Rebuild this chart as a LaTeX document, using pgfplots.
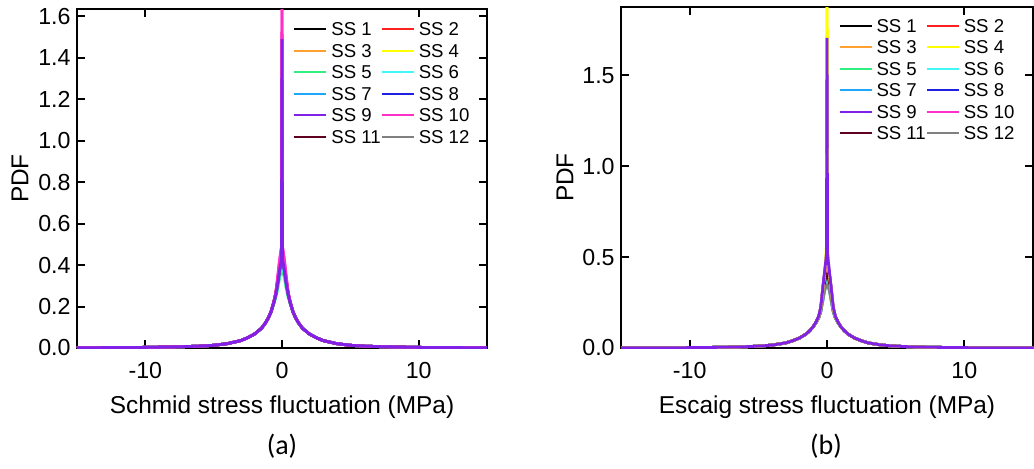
\documentclass[border=0pt]{standalone}
\usepackage{fontspec}
\setmainfont{Liberation Sans}
\newfontfamily\carlito{Carlito}
\usepackage{pgfplots}
\pgfplotsset{compat=1.18}
\usepackage{pgfplotstable}

\definecolor{c1}{HTML}{000000}
\definecolor{c2}{HTML}{FF2020}
\definecolor{c3}{HTML}{FFA030}
\definecolor{c4}{HTML}{FFFF00}
\definecolor{c5}{HTML}{30EE80}
\definecolor{c6}{HTML}{40F8F8}
\definecolor{c7}{HTML}{20A8F8}
\definecolor{c8}{HTML}{2020E0}
\definecolor{c9}{HTML}{8020E8}
\definecolor{c10}{HTML}{FF30C8}
\definecolor{c11}{HTML}{600020}
\definecolor{c12}{HTML}{808080}

% Panel (a): Schmid stress fluctuation
\pgfplotstableread{
x     s1    s2    s3    s4    s5    s6    s7    s8    s9    s10   s11   s12
-15   0.001 0.001 0.001 0.001 0.001 0.001 0.001 0.001 0.001 0.001 0.001 0.001
-10   0.003 0.003 0.003 0.003 0.003 0.003 0.003 0.003 0.003 0.003 0.003 0.003
-7.5  0.006 0.006 0.006 0.006 0.006 0.006 0.006 0.006 0.006 0.006 0.006 0.006
-6    0.009 0.009 0.009 0.009 0.009 0.009 0.009 0.009 0.009 0.009 0.009 0.009
-5    0.013 0.013 0.013 0.013 0.013 0.013 0.013 0.013 0.013 0.013 0.013 0.013
-4    0.021 0.021 0.021 0.021 0.021 0.021 0.021 0.021 0.021 0.021 0.021 0.021
-3    0.036 0.036 0.036 0.036 0.036 0.036 0.036 0.036 0.036 0.036 0.036 0.036
-2.5  0.050 0.050 0.050 0.050 0.050 0.050 0.050 0.050 0.050 0.050 0.050 0.050
-2    0.068 0.068 0.068 0.068 0.068 0.068 0.068 0.068 0.068 0.068 0.068 0.068
-1.5  0.095 0.095 0.095 0.095 0.095 0.095 0.095 0.095 0.095 0.095 0.095 0.095
-1.2  0.122 0.122 0.122 0.122 0.122 0.122 0.122 0.122 0.122 0.122 0.122 0.122
-1    0.145 0.145 0.145 0.145 0.145 0.145 0.145 0.145 0.145 0.145 0.145 0.145
-0.8  0.175 0.175 0.175 0.175 0.172 0.175 0.175 0.175 0.175 0.175 0.175 0.175
-0.6  0.220 0.220 0.220 0.220 0.212 0.218 0.220 0.220 0.220 0.222 0.220 0.220
-0.45 0.262 0.264 0.262 0.260 0.245 0.255 0.260 0.260 0.260 0.268 0.262 0.260
-0.3  0.325 0.332 0.325 0.318 0.290 0.305 0.315 0.318 0.318 0.350 0.325 0.318
-0.2  0.375 0.384 0.375 0.366 0.330 0.350 0.360 0.366 0.366 0.410 0.375 0.366
-0.1  0.415 0.424 0.415 0.405 0.360 0.380 0.398 0.405 0.405 0.460 0.415 0.405
-0.04 0.435 0.445 0.435 0.425 0.366 0.395 0.415 0.425 0.425 0.485 0.435 0.425
0     0.445 0.455 0.445 0.435 0.720 0.405 0.425 1.050 1.490 1.750 0.445 0.435
0.04  0.435 0.445 0.435 0.425 0.366 0.395 0.415 0.425 0.425 0.485 0.435 0.425
0.1   0.415 0.424 0.415 0.405 0.360 0.380 0.398 0.405 0.405 0.460 0.415 0.405
0.2   0.375 0.384 0.375 0.366 0.330 0.350 0.360 0.366 0.366 0.410 0.375 0.366
0.3   0.325 0.332 0.325 0.318 0.290 0.305 0.315 0.318 0.318 0.350 0.325 0.318
0.45  0.262 0.264 0.262 0.260 0.245 0.255 0.260 0.260 0.260 0.268 0.262 0.260
0.6   0.220 0.220 0.220 0.220 0.212 0.218 0.220 0.220 0.220 0.222 0.220 0.220
0.8   0.175 0.175 0.175 0.175 0.172 0.175 0.175 0.175 0.175 0.175 0.175 0.175
1     0.145 0.145 0.145 0.145 0.145 0.145 0.145 0.145 0.145 0.145 0.145 0.145
1.2   0.122 0.122 0.122 0.122 0.122 0.122 0.122 0.122 0.122 0.122 0.122 0.122
1.5   0.095 0.095 0.095 0.095 0.095 0.095 0.095 0.095 0.095 0.095 0.095 0.095
2     0.068 0.068 0.068 0.068 0.068 0.068 0.068 0.068 0.068 0.068 0.068 0.068
2.5   0.050 0.050 0.050 0.050 0.050 0.050 0.050 0.050 0.050 0.050 0.050 0.050
3     0.036 0.036 0.036 0.036 0.036 0.036 0.036 0.036 0.036 0.036 0.036 0.036
4     0.021 0.021 0.021 0.021 0.021 0.021 0.021 0.021 0.021 0.021 0.021 0.021
5     0.013 0.013 0.013 0.013 0.013 0.013 0.013 0.013 0.013 0.013 0.013 0.013
6     0.009 0.009 0.009 0.009 0.009 0.009 0.009 0.009 0.009 0.009 0.009 0.009
7.5   0.006 0.006 0.006 0.006 0.006 0.006 0.006 0.006 0.006 0.006 0.006 0.006
10    0.003 0.003 0.003 0.003 0.003 0.003 0.003 0.003 0.003 0.003 0.003 0.003
15    0.001 0.001 0.001 0.001 0.001 0.001 0.001 0.001 0.001 0.001 0.001 0.001
}\tA

% Panel (b): Escaig stress fluctuation
\pgfplotstableread{
x     s1    s2    s3    s4    s5    s6    s7    s8    s9    s10   s11   s12
-15   0.001 0.001 0.001 0.001 0.001 0.001 0.001 0.001 0.001 0.001 0.001 0.001
-10   0.002 0.002 0.002 0.002 0.002 0.002 0.002 0.002 0.002 0.002 0.002 0.002
-7.5  0.004 0.004 0.004 0.004 0.004 0.004 0.004 0.004 0.004 0.004 0.004 0.004
-6    0.007 0.007 0.007 0.007 0.007 0.007 0.007 0.007 0.007 0.007 0.007 0.007
-5    0.010 0.010 0.010 0.010 0.010 0.010 0.010 0.010 0.010 0.010 0.010 0.010
-4    0.016 0.016 0.016 0.016 0.016 0.016 0.016 0.016 0.016 0.016 0.016 0.016
-3    0.028 0.028 0.028 0.028 0.028 0.028 0.028 0.028 0.028 0.028 0.028 0.028
-2.5  0.040 0.040 0.040 0.040 0.040 0.040 0.040 0.040 0.040 0.040 0.040 0.040
-2    0.055 0.055 0.055 0.055 0.055 0.055 0.055 0.055 0.055 0.055 0.055 0.055
-1.5  0.078 0.078 0.078 0.078 0.078 0.078 0.078 0.078 0.078 0.078 0.078 0.078
-1.2  0.100 0.100 0.100 0.100 0.100 0.100 0.100 0.100 0.100 0.100 0.100 0.100
-1    0.118 0.118 0.118 0.118 0.118 0.118 0.118 0.118 0.118 0.118 0.118 0.118
-0.8  0.140 0.140 0.142 0.140 0.140 0.138 0.140 0.142 0.142 0.141 0.140 0.138
-0.6  0.168 0.170 0.175 0.172 0.170 0.165 0.170 0.174 0.175 0.172 0.170 0.165
-0.45 0.205 0.212 0.225 0.220 0.210 0.200 0.212 0.222 0.225 0.220 0.212 0.200
-0.3  0.270 0.300 0.338 0.320 0.285 0.263 0.300 0.330 0.330 0.320 0.300 0.263
-0.2  0.315 0.350 0.394 0.380 0.333 0.306 0.350 0.390 0.400 0.380 0.350 0.306
-0.1  0.351 0.390 0.439 0.460 0.371 0.341 0.390 0.435 0.470 0.425 0.390 0.335
-0.04 0.360 0.400 0.450 0.560 0.380 0.350 0.400 0.450 0.515 0.440 0.400 0.340
0     0.365 0.405 0.455 2.000 0.720 0.355 1.260 1.120 1.705 0.445 0.405 0.345
0.04  0.360 0.400 0.450 0.560 0.380 0.350 0.400 0.450 0.515 0.440 0.400 0.340
0.1   0.351 0.390 0.439 0.460 0.371 0.341 0.390 0.435 0.470 0.425 0.390 0.335
0.2   0.315 0.350 0.394 0.380 0.333 0.306 0.350 0.390 0.400 0.380 0.350 0.306
0.3   0.270 0.300 0.338 0.320 0.285 0.263 0.300 0.330 0.330 0.320 0.300 0.263
0.45  0.205 0.212 0.225 0.220 0.210 0.200 0.212 0.222 0.225 0.220 0.212 0.200
0.6   0.168 0.170 0.175 0.172 0.170 0.165 0.170 0.174 0.175 0.172 0.170 0.165
0.8   0.140 0.140 0.142 0.140 0.140 0.138 0.140 0.142 0.142 0.141 0.140 0.138
1     0.118 0.118 0.118 0.118 0.118 0.118 0.118 0.118 0.118 0.118 0.118 0.118
1.2   0.100 0.100 0.100 0.100 0.100 0.100 0.100 0.100 0.100 0.100 0.100 0.100
1.5   0.078 0.078 0.078 0.078 0.078 0.078 0.078 0.078 0.078 0.078 0.078 0.078
2     0.055 0.055 0.055 0.055 0.055 0.055 0.055 0.055 0.055 0.055 0.055 0.055
2.5   0.040 0.040 0.040 0.040 0.040 0.040 0.040 0.040 0.040 0.040 0.040 0.040
3     0.028 0.028 0.028 0.028 0.028 0.028 0.028 0.028 0.028 0.028 0.028 0.028
4     0.016 0.016 0.016 0.016 0.016 0.016 0.016 0.016 0.016 0.016 0.016 0.016
5     0.010 0.010 0.010 0.010 0.010 0.010 0.010 0.010 0.010 0.010 0.010 0.010
6     0.007 0.007 0.007 0.007 0.007 0.007 0.007 0.007 0.007 0.007 0.007 0.007
7.5   0.004 0.004 0.004 0.004 0.004 0.004 0.004 0.004 0.004 0.004 0.004 0.004
10    0.002 0.002 0.002 0.002 0.002 0.002 0.002 0.002 0.002 0.002 0.002 0.002
15    0.001 0.001 0.001 0.001 0.001 0.001 0.001 0.001 0.001 0.001 0.001 0.001
}\tB

\pgfplotsset{
  myaxis/.style={
    scale only axis,
    anchor=south west,
    xmin=-15, xmax=15, ymin=0,
    xtick={-10,0,10},
    tick align=inside,
    major tick length=4pt,
    minor tick num=0,
    axis line style={line width=1pt, black},
    every tick/.style={black, line width=1pt},
    /pgf/number format/assume math mode=true,
    tick label style={font=\fontsize{11.6}{13}\selectfont},
    xticklabel style={anchor=base, inner sep=0pt, yshift=-15pt},
    yticklabel style={anchor=east, inner sep=0pt, xshift=-3pt,
      /pgf/number format/.cd, fixed, fixed zerofill, precision=1},
    label style={font=\fontsize{12.2}{14}\selectfont},
    xlabel style={at={(axis description cs:0.5,0)}, anchor=base, yshift=-32.5pt},
    ylabel={PDF},
    no marks,
    every axis plot/.append style={line width=1.4pt},
    legend columns=2,
    legend cell align=left,
    legend image code/.code={\draw[##1, line width=1pt] (0pt,0pt) -- (16pt,0pt);},
    legend style={draw=none, fill=none, inner sep=0pt,
      font=\fontsize{9.3}{10}\selectfont,
      nodes={inner sep=0pt, text height=6.5pt, text depth=0pt},
      row sep=4.25pt,
      /tikz/every odd column/.append style={column sep=2pt},
      /tikz/every even column/.append style={column sep=0pt},
      anchor=north west},
  }
}

\newcommand{\ssplots}[1]{%
  \addplot[c1]  table[x=x,y=s1]{#1};  \addlegendentry{SS 1}
  \addplot[c2]  table[x=x,y=s2]{#1};  \addlegendentry{SS 2}
  \addplot[c3]  table[x=x,y=s3]{#1};  \addlegendentry{SS 3}
  \addplot[c4]  table[x=x,y=s4]{#1};  \addlegendentry{SS 4}
  \addplot[c5]  table[x=x,y=s5]{#1};  \addlegendentry{SS 5}
  \addplot[c6]  table[x=x,y=s6]{#1};  \addlegendentry{SS 6}
  \addplot[c7]  table[x=x,y=s7]{#1};  \addlegendentry{SS 7}
  \addplot[c8]  table[x=x,y=s8]{#1};  \addlegendentry{SS 8}
  \addplot[c9]  table[x=x,y=s9]{#1};  \addlegendentry{SS 9}
  \addplot[c10] table[x=x,y=s10]{#1}; \addlegendentry{SS 10}
  \addplot[c11] table[x=x,y=s11]{#1}; \addlegendentry{SS 11}
  \addplot[c12] table[x=x,y=s12]{#1}; \addlegendentry{SS 12}
}

\begin{document}
\begin{tikzpicture}
\useasboundingbox (0pt,0pt) rectangle (517pt,234pt);

\begin{axis}[myaxis,
  at={(38.5pt,60pt)}, width=205pt, height=169.5pt,
  ymax=1.635, ytick={0,0.2,...,1.6},
  xlabel={Schmid stress fluctuation (MPa)},
  ylabel style={at={(axis description cs:-0.139,0.5)}, anchor=center},
  legend style={at={(axis description cs:0.527,0.96)}},
]
\ssplots{\tA}
\addplot[c10, forget plot] table[x=x,y=s10]{\tA};
\addplot[c9, forget plot] table[x=x,y=s9]{\tA};
\end{axis}

\begin{axis}[myaxis,
  at={(310.5pt,60pt)}, width=206pt, height=170.5pt,
  ymax=1.875, ytick={0,0.5,1,1.5},
  xlabel={Escaig stress fluctuation (MPa)},
  ylabel style={at={(axis description cs:-0.136,0.5)}, anchor=center},
  legend style={at={(axis description cs:0.527,0.965)}},
]
\ssplots{\tB}
\addplot[c4, forget plot] table[x=x,y=s4]{\tB};
\addplot[c9, forget plot] table[x=x,y=s9]{\tB};
\end{axis}

\node[font=\carlito\fontsize{14}{16}\selectfont] at (141pt,11pt) {(a)};
\node[font=\carlito\fontsize{14}{16}\selectfont] at (413pt,11pt) {(b)};
\end{tikzpicture}
\end{document}
